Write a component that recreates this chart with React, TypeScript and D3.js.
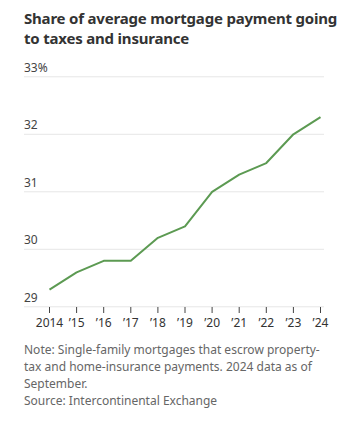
import React from "react";
import * as d3 from "d3";

const years = [2014, 2015, 2016, 2017, 2018, 2019, 2020, 2021, 2022, 2023, 2024];
const shares = [29.3, 29.6, 29.8, 29.8, 30.2, 30.4, 31.0, 31.3, 31.5, 32.0, 32.3];
const yTicks = [29, 30, 31, 32, 33];
const xTickLabels = ["2014", "\u201915", "\u201916", "\u201917", "\u201918", "\u201919", "\u201920", "\u201921", "\u201922", "\u201923", "\u201924"];
const titleLines = ["Share of average mortgage payment going", "to taxes and insurance"];
const noteLines = [
  "Note: Single-family mortgages that escrow property-",
  "tax and home-insurance payments. 2024 data as of",
  "September.",
  "Source: Intercontinental Exchange",
];

const W = 341;
const H = 431;
const font = "'Noto Sans', 'Open Sans', sans-serif";

export default function App() {
  const x = d3.scaleLinear().domain([2014, 2024]).range([49.5, 320.5]);
  const y = d3.scaleLinear().domain([29, 33]).range([306.8, 76.8]);
  const line = d3
    .line<number>()
    .x((_, i) => x(years[i]))
    .y((d) => y(d));

  return (
    <svg
      width={W}
      height={H}
      style={{ position: "absolute", left: 0, top: 0, background: "#fff" }}
      fontFamily={font}
    >
      {titleLines.map((t, i) => (
        <text key={i} x={24} y={24 + i * 20} fontSize={15} fontWeight={700} fill="#333" letterSpacing={-0.2}>
          {t}
        </text>
      ))}
      {yTicks.map((t) => (
        <g key={t}>
          <line x1={24} x2={324} y1={y(t)} y2={y(t)} stroke="#e6e6e6" strokeWidth={1} />
          <text x={24} y={y(t) - 5} fontSize={12} fill="#444">
            {t === 33 ? "33%" : String(t)}
          </text>
        </g>
      ))}
      {years.map((yr, i) => (
        <g key={yr}>
          <line x1={x(yr)} x2={x(yr)} y1={307} y2={313} stroke="#444" strokeWidth={1} />
          <text x={x(yr)} y={327} fontSize={12} fill="#333" textAnchor="middle">
            {xTickLabels[i]}
          </text>
        </g>
      ))}
      <path d={line(shares) || ""} fill="none" stroke="#5c9a52" strokeWidth={2} strokeLinejoin="round" />
      {noteLines.map((t, i) => (
        <text key={i} x={24} y={354 + i * 17} fontSize={12} fill="#666">
          {t}
        </text>
      ))}
    </svg>
  );
}
